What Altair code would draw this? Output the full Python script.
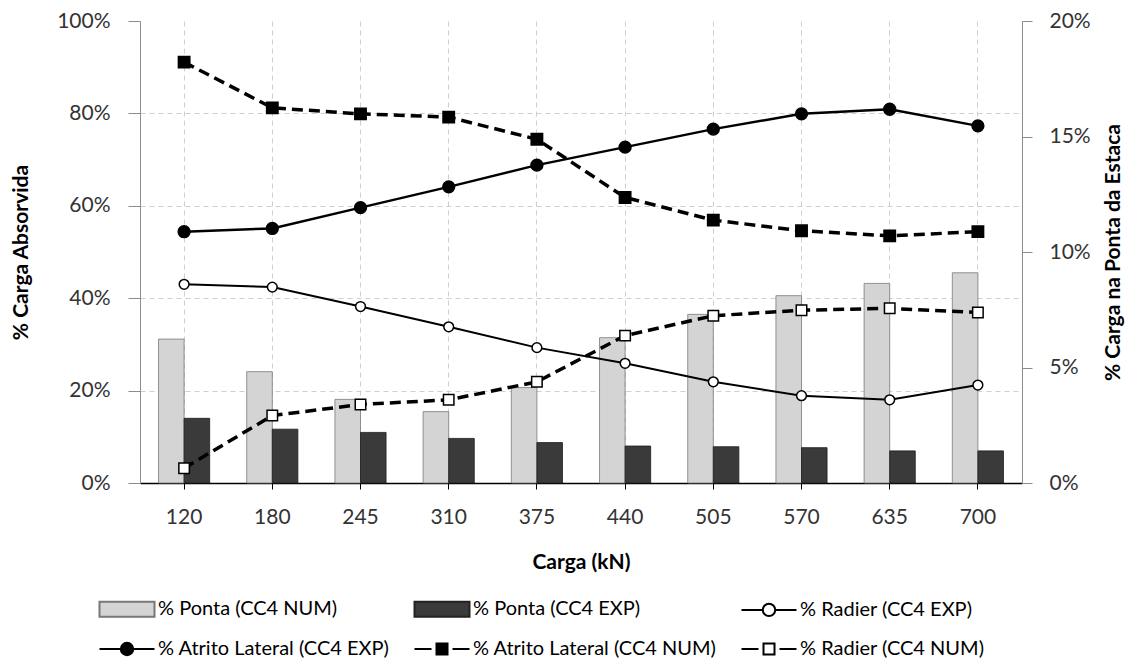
import altair as alt
import pandas as pd

# ---- data ----
cargas = ["120", "180", "245", "310", "375", "440", "505", "570", "635", "700"]

# bars (right axis, % Carga na Ponta da Estaca)
ponta_num = [6.23, 4.82, 3.62, 3.09, 4.13, 6.29, 7.30, 8.11, 8.64, 9.10]
ponta_exp = [2.80, 2.33, 2.19, 1.93, 1.75, 1.60, 1.57, 1.53, 1.39, 1.39]

# lines (left axis, % Carga Absorvida)
radier_exp = [43.0, 42.4, 38.2, 33.8, 29.3, 25.9, 21.9, 18.9, 18.0, 21.2]
atrito_exp = [54.4, 55.1, 59.6, 64.1, 68.8, 72.7, 76.6, 79.9, 80.9, 77.3]
atrito_num = [91.1, 81.2, 79.9, 79.2, 74.4, 61.8, 56.9, 54.6, 53.5, 54.4]
radier_num = [3.2, 14.6, 17.0, 18.0, 21.9, 31.9, 36.2, 37.4, 37.8, 36.9]

S_PN = "% Ponta (CC4 NUM)"
S_PE = "% Ponta (CC4 EXP)"
S_RE = "% Radier (CC4 EXP)"
S_AE = "% Atrito Lateral (CC4 EXP)"
S_AN = "% Atrito Lateral (CC4 NUM)"
S_RN = "% Radier (CC4 NUM)"
legend_order = [S_PN, S_PE, S_RE, S_AE, S_AN, S_RN]

FONT = "Lato"

# legend symbol paths (unit = 10 px)
P_BAR = "M-2.75,-0.75H2.75V0.75H-2.75Z"
P_LINE_CIRCLE = ("M-2.75,0H-0.62M0.62,0H2.75"
                 "M0.62,0A0.62,0.62 0 1 1 -0.62,0A0.62,0.62 0 1 1 0.62,0Z")
P_DASH_SQUARE = "M-2.75,0H-1.05M-0.55,-0.55H0.55V0.55H-0.55ZM1.05,0H2.75"
legend_paths = [P_BAR, P_BAR, P_LINE_CIRCLE, P_LINE_CIRCLE, P_DASH_SQUARE, P_DASH_SQUARE]
legend_fills = ["#d4d4d4", "#3a3a3a", "#ffffff", "#000000", "#000000", "#ffffff"]
legend_strokes = ["#777777", "#222222", "#000000", "#000000", "#000000", "#000000"]

# ---- encodings ----
x_axis = alt.Axis(
    bandPosition=0.5, labelAngle=0, grid=True, gridDash=[5, 4], gridColor="#cfcfcf",
    domainColor="#000000", domainWidth=1.5, tickColor="#000000", tickSize=6,
    labelPadding=17, labelFontSize=21, labelColor="#333333",
    titleFontSize=21, titleFontWeight="bold", titleColor="#000000", titlePadding=24,
)
x_enc = alt.X("carga:N", sort=cargas, title="Carga (kN)",
              scale=alt.Scale(domain=cargas, paddingInner=0.42, paddingOuter=0.21),
              axis=x_axis)

y_right = alt.Y(
    "valor:Q",
    scale=alt.Scale(domain=[0, 20], nice=False),
    axis=alt.Axis(
        orient="right", values=[0, 5, 10, 15, 20], labelExpr="datum.value + '%'",
        title="% Carga na Ponta da Estaca", grid=False,
        domainColor="#8c8c8c", tickColor="#8c8c8c", tickSize=10, labelPadding=17,
        labelFontSize=21, labelColor="#333333",
        titleFontSize=21, titleFontWeight="bold", titleColor="#000000",
        titleAngle=270, titleBaseline="top", titlePadding=12,
    ),
)

y_left = alt.Y(
    "valor:Q",
    scale=alt.Scale(domain=[0, 100], nice=False),
    axis=alt.Axis(
        orient="left", values=[0, 20, 40, 60, 80, 100], labelExpr="datum.value + '%'",
        title="% Carga Absorvida", grid=True, gridDash=[5, 4], gridColor="#cfcfcf",
        gridOpacity={"condition": {"test": "datum.value == 100", "value": 0}, "value": 1},
        domainColor="#8c8c8c", tickColor="#8c8c8c", tickSize=12, labelPadding=18,
        labelFontSize=21, labelColor="#333333",
        titleFontSize=21, titleFontWeight="bold", titleColor="#000000", titlePadding=25,
    ),
)

xoff = alt.XOffset("serie:N", sort=[S_PN, S_PE],
                   scale=alt.Scale(domain=[S_PN, S_PE], paddingInner=0, paddingOuter=0))

# ---- bars ----
df_pn = pd.DataFrame({"carga": cargas, "serie": S_PN, "valor": ponta_num})
df_pe = pd.DataFrame({"carga": cargas, "serie": S_PE, "valor": ponta_exp})
bars_num = alt.Chart(df_pn).mark_bar(fill="#d4d4d4", stroke="#7a7a7a", strokeWidth=0.8).encode(
    x=x_enc, xOffset=xoff, y=y_right)
bars_exp = alt.Chart(df_pe).mark_bar(fill="#3a3a3a", stroke="#1e1e1e", strokeWidth=0.8).encode(
    x=x_enc, xOffset=xoff, y=y_right)
bars = alt.layer(bars_num, bars_exp)


# ---- lines ----
def series_layers(vals, serie, shape, fill, size, line_width, dashed):
    df = pd.DataFrame({"carga": cargas, "serie": serie, "valor": vals})
    base = alt.Chart(df)
    line_kw = dict(color="#000000", strokeWidth=line_width)
    if dashed:
        line_kw["strokeDash"] = [11, 6]
    line = base.mark_line(**line_kw).encode(x=x_enc, y=y_left)
    pts = base.mark_point(shape=shape, filled=True, fill=fill, stroke="#000000",
                          strokeWidth=1.5, size=size, opacity=1).encode(x=x_enc, y=y_left)
    return [line, pts]


lines = alt.layer(
    *series_layers(radier_exp, S_RE, "circle", "#ffffff", 95, 2, False),
    *series_layers(radier_num, S_RN, "square", "#ffffff", 110, 3.5, True),
    *series_layers(atrito_num, S_AN, "square", "#000000", 130, 3.5, True),
    *series_layers(atrito_exp, S_AE, "circle", "#000000", 140, 2.5, False),
)

# ---- legend (empty layer carrying the combined legend) ----
leg = alt.Legend(
    title=None, orient="none", legendX=-24, legendY=577, columns=3, direction="horizontal",
    columnPadding=20, rowPadding=17, labelFont=FONT, labelFontSize=20, labelColor="#000000",
    labelOffset=20, labelLimit=500, symbolSize=400, symbolStrokeWidth=2, gridAlign="each",
)
leg_df = pd.DataFrame({"serie": legend_order})
legend_layer = alt.Chart(leg_df).transform_filter("false").mark_point(
    filled=True, size=400, opacity=1, strokeWidth=2).encode(
    shape=alt.Shape("serie:N", sort=legend_order,
                    scale=alt.Scale(domain=legend_order, range=legend_paths), legend=leg),
    fill=alt.Fill("serie:N", sort=legend_order,
                  scale=alt.Scale(domain=legend_order, range=legend_fills), legend=leg),
    stroke=alt.Stroke("serie:N", sort=legend_order,
                      scale=alt.Scale(domain=legend_order, range=legend_strokes), legend=leg),
)

chart = alt.layer(bars, lines, legend_layer).resolve_scale(
    y="independent"
).properties(
    width=882, height=462,
    padding={"left": 140, "top": 21, "right": 114, "bottom": 179},
    autosize=alt.AutoSizeParams(type="none"),
    background="#ffffff",
).configure_view(stroke=None).configure_axis(
    labelFont=FONT, titleFont=FONT
).configure_legend(labelFont=FONT)

chart.save("out.html", embed_options={"renderer": "svg", "actions": False})
